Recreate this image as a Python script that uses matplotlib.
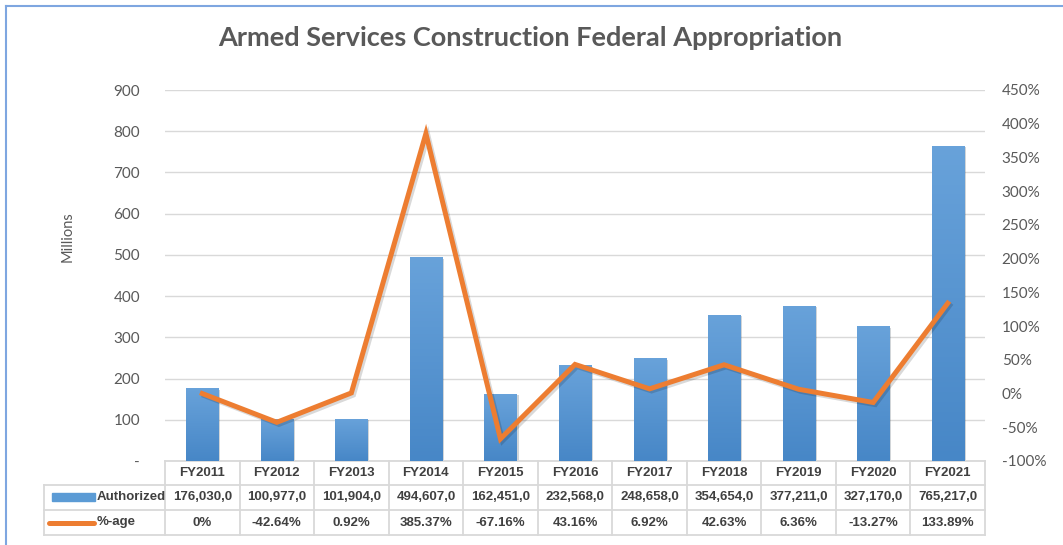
import numpy as np
import matplotlib
matplotlib.use("Agg")
import matplotlib.pyplot as plt
import matplotlib.patheffects as pe
from matplotlib.transforms import blended_transform_factory
from matplotlib.lines import Line2D
from matplotlib.patches import Rectangle

# ---- data ----
years = ["FY2011", "FY2012", "FY2013", "FY2014", "FY2015", "FY2016",
         "FY2017", "FY2018", "FY2019", "FY2020", "FY2021"]
authorized = [176.030, 100.977, 101.904, 494.607, 162.451, 232.568,
              248.658, 354.654, 377.211, 327.170, 765.217]
authorized_txt = ["176,030,0", "100,977,0", "101,904,0", "494,607,0", "162,451,0",
                  "232,568,0", "248,658,0", "354,654,0", "377,211,0", "327,170,0",
                  "765,217,0"]
pct_change = [0, -42.64, 0.92, 385.37, -67.16, 43.16, 6.92, 42.63, 6.36, -13.27, 133.89]
pct_txt = ["0%", "-42.64%", "0.92%", "385.37%", "-67.16%", "43.16%", "6.92%",
           "42.63%", "6.36%", "-13.27%", "133.89%"]

BLUE = "#5B9BD5"
ORANGE = "#ED7D31"
GRID = "#D9D9D9"
TXT = "#595959"
TABLE_TXT = "#404040"
W, H = 1063, 545

fig = plt.figure(figsize=(W / 100, H / 100), dpi=100)
fig.patch.set_facecolor("white")

# plot area in pixels: x 165..985, y 90..461
ax = fig.add_axes([165 / W, 1 - 461 / H, 820 / W, 371 / H])
ax2 = ax.twinx()
ax.set_zorder(1)
ax2.set_zorder(2)
ax.patch.set_visible(False)

x = np.arange(len(years))
ax.set_xlim(-0.5, len(years) - 0.5)
ax.set_ylim(0, 900)
ax2.set_ylim(-100, 450)

# gradient bars (lighter at the top, darker at the base)
grad = np.linspace(0, 1, 64).reshape(-1, 1)
cmap = matplotlib.colors.LinearSegmentedColormap.from_list("b", ["#4787C7", "#68A2DA"])
bars = ax.bar(x, authorized, width=0.43, color=BLUE, zorder=2)
for b in bars:
    b.set_path_effects([pe.SimplePatchShadow(offset=(1.5, -1), alpha=0.2), pe.Normal()])
    im = ax.imshow(grad, extent=[b.get_x(), b.get_x() + b.get_width(), 0, b.get_height()],
                   aspect="auto", cmap=cmap, origin="lower", zorder=3)
    im.set_clip_path(b)

ax.set_yticks(range(0, 901, 100))
ax.set_yticklabels(["-"] + [str(v) for v in range(100, 901, 100)])
ax.yaxis.grid(True, color=GRID, linewidth=1)
ax.set_axisbelow(True)
ax.tick_params(axis="y", length=0, pad=18, labelsize=11, labelcolor=TXT)
ax.set_xticks([])
for s in ax.spines.values():
    s.set_visible(False)
for lab in ax.get_yticklabels():
    lab.set_fontfamily("Lato")

ax2.plot(x, pct_change, color=ORANGE, linewidth=3.6, solid_joinstyle="miter",
         path_effects=[pe.SimpleLineShadow(offset=(1.5, -1.5), alpha=0.15), pe.Normal()])
ax2.set_yticks(range(-100, 451, 50))
ax2.set_yticklabels([f"{v}%" for v in range(-100, 451, 50)])
ax2.tick_params(axis="y", length=0, pad=12, labelsize=11, labelcolor=TXT)
for s in ax2.spines.values():
    s.set_visible(False)
for lab in ax2.get_yticklabels():
    lab.set_fontfamily("Lato")

ax.set_ylabel("Millions", fontsize=10.5, color=TXT, family="Lato")
ax.yaxis.set_label_coords((75 - 165) / 820, (461 - 237) / 371)

fig.text(530 / W, 1 - 38 / H, "Armed Services Construction Federal Appropriation",
         ha="center", va="center", fontsize=19.5, fontweight="bold", color=TXT, family="Lato")

# ---- data table under the plot ----
tr = blended_transform_factory(ax.transData, ax.transAxes)
row_y = [(461 - py) / 371 for py in (461, 485, 510, 535)]
left_frac = (44 - 165) / 820
narrow = ["Liberation Sans Narrow", "Liberation Sans", "DejaVu Sans"]
tbl_lines = dict(color=GRID, linewidth=1.3, clip_on=False)

ax.add_line(Line2D([-0.5, len(years) - 0.5], [row_y[0]] * 2, transform=tr, **tbl_lines))
for yy in row_y[1:]:
    ax.add_line(Line2D([left_frac, 1], [yy, yy], transform=ax.transAxes, **tbl_lines))
for i in range(len(years) + 1):
    ax.add_line(Line2D([i - 0.5] * 2, [row_y[0], row_y[3]], transform=tr, **tbl_lines))
ax.add_line(Line2D([left_frac] * 2, [row_y[1], row_y[3]], transform=ax.transAxes, **tbl_lines))

mids = [(row_y[k] + row_y[k + 1]) / 2 for k in range(3)]
for i, yr in enumerate(years):
    ax.text(i, mids[0], yr, transform=tr, ha="center", va="center", fontsize=9.5,
            fontweight="bold", color=TABLE_TXT, family=narrow, clip_on=False)
    ax.text(i, mids[1], authorized_txt[i], transform=tr, ha="center", va="center",
            fontsize=9.5, fontweight="bold", color=TABLE_TXT, family=narrow, clip_on=False)
    ax.text(i, mids[2], pct_txt[i], transform=tr, ha="center", va="center",
            fontsize=9.5, fontweight="bold", color=TABLE_TXT, family=narrow, clip_on=False)

# legend keys in the table
ax.add_patch(Rectangle(((52 - 165) / 820, mids[1] - 0.009), 43 / 820, 0.02,
                       transform=ax.transAxes, color=BLUE, clip_on=False))
ax.add_line(Line2D([(49 - 165) / 820, (94 - 165) / 820], [mids[2]] * 2, transform=ax.transAxes,
                   color=ORANGE, linewidth=3.6, solid_capstyle="round", clip_on=False))
ax.text((97 - 165) / 820, mids[1], "Authorized", transform=ax.transAxes, ha="left", va="center",
        fontsize=9.5, fontweight="bold", color=TABLE_TXT, family=narrow)
ax.text((97 - 165) / 820, mids[2], "%-age", transform=ax.transAxes, ha="left", va="center",
        fontsize=9.5, fontweight="bold", color=TABLE_TXT, family=narrow)

# chart border (left and top edges visible)
fig.add_artist(Line2D([6 / W, 6 / W], [0, 1 - 6 / H], color="#7EA6E0", linewidth=1.5))
fig.add_artist(Line2D([6 / W, 1], [1 - 6 / H] * 2, color="#7EA6E0", linewidth=1.5))

fig.savefig("out.png", dpi=100)
